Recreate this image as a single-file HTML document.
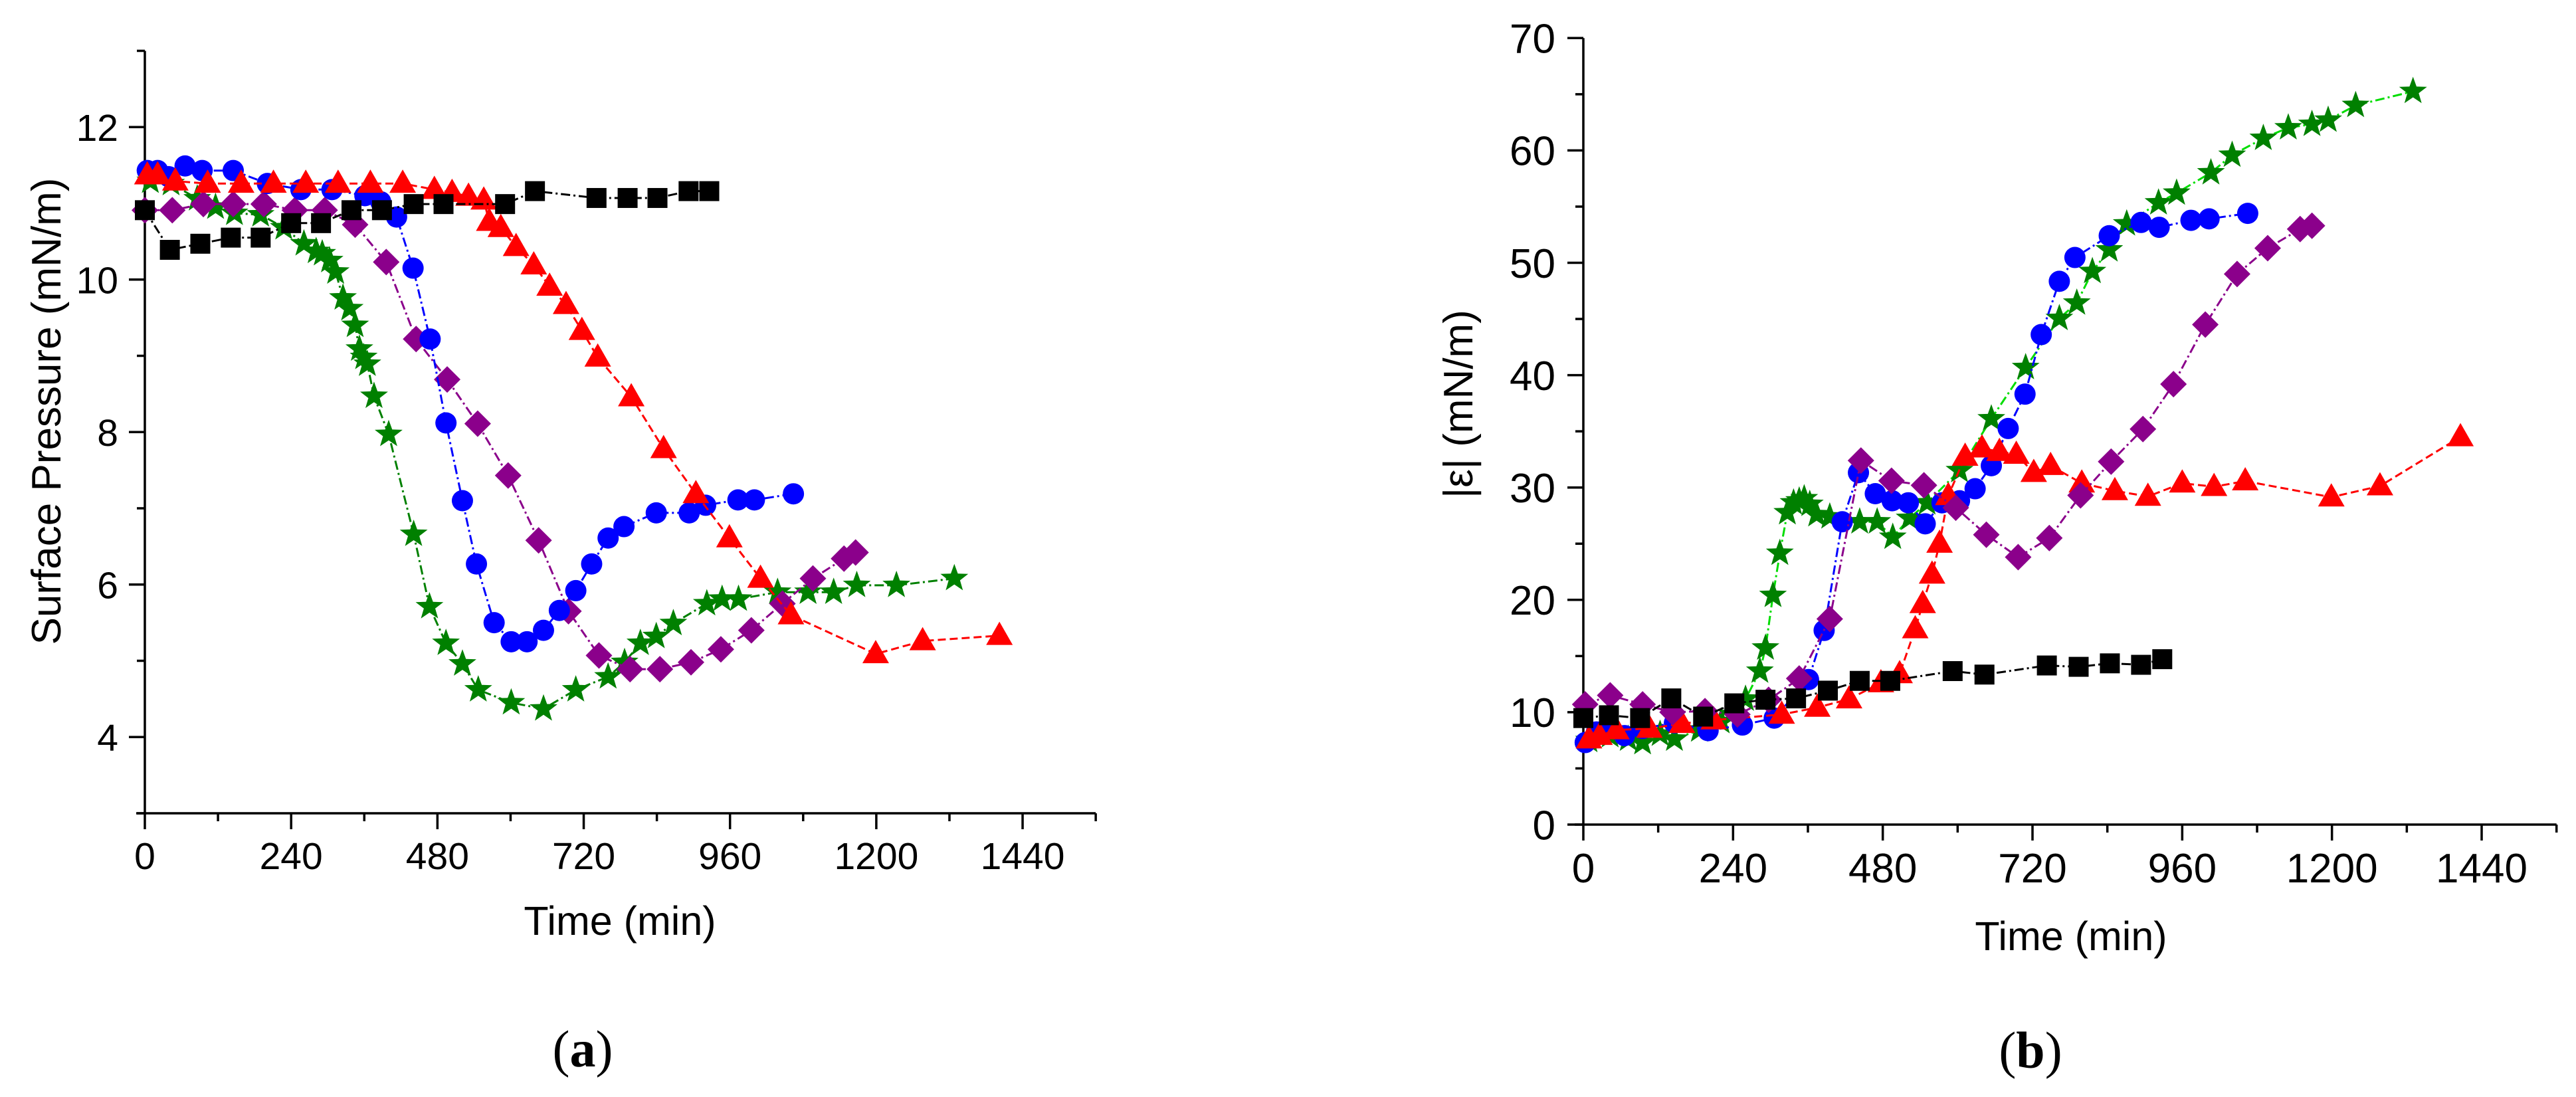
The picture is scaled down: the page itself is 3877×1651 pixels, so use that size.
<!DOCTYPE html>
<html><head><meta charset="utf-8"><style>
html,body{margin:0;padding:0;background:#fff;}
svg{display:block;}
text{font-family:"Liberation Sans",Arial,sans-serif;fill:#000;}
</style></head><body>
<svg id="fig" width="3877" height="1651" viewBox="0 0 3877 1651" xmlns="http://www.w3.org/2000/svg">
<g id="chartA"></g>
<g id="chartB"></g>
</svg>
<script>
// ---------- Chart (a) data ----------
const aBlackT=[0,41,91,141,190,240,289,339,389,441,490,591,640,741,792,841,892,926];
const aBlackV=[10.91,10.39,10.47,10.55,10.55,10.74,10.74,10.91,10.91,10.99,10.99,10.99,11.16,11.07,11.07,11.07,11.16,11.16];
const aBlueT=[4,21,39,66,94,145,201,256,307,361,387,413,440,468,494,521,544,573,601,627,654,680,707,733,760,786,839,893,920,973,1000,1064];
const aBlueV=[11.43,11.43,11.35,11.49,11.43,11.43,11.26,11.18,11.18,11.10,11.02,10.82,10.15,9.22,8.12,7.10,6.27,5.50,5.25,5.25,5.40,5.66,5.92,6.27,6.61,6.76,6.94,6.94,7.04,7.11,7.11,7.19];
const aRedT=[4,21,50,103,158,211,264,317,370,423,475,504,531,556,565,584,609,638,664,691,717,743,798,851,904,959,1010,1060,1199,1276,1402];
const aRedV=[11.37,11.37,11.29,11.26,11.26,11.26,11.26,11.26,11.26,11.26,11.18,11.14,11.09,11.04,10.76,10.68,10.43,10.19,9.91,9.67,9.33,8.98,8.46,7.78,7.19,6.61,6.08,5.60,5.09,5.26,5.33];
const aPurpleT=[0,45,96,145,195,246,295,345,396,445,496,546,596,646,695,745,796,845,896,945,995,1046,1096,1147,1166];
const aPurpleV=[10.91,10.91,10.99,10.99,10.99,10.91,10.91,10.72,10.23,9.22,8.69,8.11,7.43,6.58,5.65,5.07,4.89,4.89,4.98,5.15,5.40,5.75,6.08,6.34,6.42];
const aGreenT=[9,43,86,116,147,190,228,261,281,291,303,313,325,336,345,352,359,365,376,400,441,467,494,521,547,601,654,707,760,787,813,839,867,922,947,974,1038,1088,1130,1168,1233,1328];
const aGreenV=[11.29,11.26,11.06,10.95,10.87,10.85,10.68,10.47,10.37,10.34,10.25,10.10,9.76,9.62,9.40,9.09,8.98,8.89,8.47,7.97,6.66,5.71,5.23,4.96,4.62,4.45,4.37,4.62,4.79,4.98,5.23,5.32,5.49,5.75,5.81,5.81,5.90,5.90,5.90,5.99,5.99,6.08];
const aXTicks=[0,240,480,720,960,1200,1440];
const aYTicks=[4,6,8,10,12];

// ---------- Chart (b) data ----------
const bBlackT=[0,41,91,141,192,242,292,341,392,443,492,592,643,743,794,844,894,928];
const bBlackV=[9.48,9.73,9.48,11.23,9.61,10.79,11.11,11.23,11.92,12.79,12.79,13.66,13.35,14.16,14.04,14.35,14.22,14.72];
const bBlueT=[3,21,41,66,95,146,200,255,306,361,386,415,441,468,495,521,548,575,603,628,654,681,708,734,763,788,843,894,923,974,1003,1065];
const bBlueV=[7.30,8.24,8.55,7.92,8.55,9.05,8.36,8.86,9.48,12.91,17.28,26.95,31.32,29.45,28.82,28.64,26.77,28.64,28.82,29.89,31.94,35.25,38.31,43.61,48.35,50.47,52.41,53.59,53.16,53.78,53.91,54.40];
const bRedT=[9,26,53,106,158,209,318,375,426,477,507,532,544,559,571,585,612,639,667,694,722,749,799,852,905,960,1011,1061,1199,1277,1406];
const bRedV=[7.61,7.92,8.42,8.55,8.98,9.30,9.80,10.42,11.17,12.60,13.41,17.41,19.65,22.27,25.02,29.26,32.76,33.50,33.19,32.94,31.32,31.94,30.38,29.70,29.20,30.38,30.07,30.57,29.14,30.13,34.50];
const bPurpleT=[3,43,95,143,195,247,297,346,395,445,494,546,597,646,697,747,797,846,897,946,997,1048,1097,1149,1168];
const bPurpleV=[10.7,11.5,10.7,10.0,10.1,9.8,11.1,13.0,18.3,32.4,30.6,30.2,28.2,25.8,23.8,25.5,29.3,32.3,35.2,39.2,44.5,49.0,51.3,53.0,53.3];
const bGreenT=[9,43,72,95,123,146,186,221,238,260,283,292,304,315,327,337,346,354,363,374,395,443,471,496,523,551,603,654,709,763,791,816,843,871,922,951,1006,1040,1090,1130,1168,1194,1238,1330];
const bGreenV=[7.49,7.92,7.61,7.30,8.05,7.61,8.42,9.17,9.80,11.17,13.66,15.72,20.40,24.15,27.76,28.64,28.82,29.01,28.51,27.58,27.39,26.95,26.95,25.58,27.26,28.64,31.51,36.12,40.68,45.05,46.42,49.23,51.16,53.47,55.34,56.21,58.02,59.58,61.08,62.02,62.33,62.70,64.01,65.26];
const bXTicks=[0,240,480,720,960,1200,1440];
const bYTicks=[0,10,20,30,40,50,60,70];

const NS="http://www.w3.org/2000/svg";
function mk(tag,attrs,parent){const e=document.createElementNS(NS,tag);for(const k in attrs)e.setAttribute(k,attrs[k]);parent.appendChild(e);return e;}

function marker(g,shape,color,x,y){
  let e;
  if(shape==='square'){e=mk('rect',{x:x-15,y:y-15,width:30,height:30,fill:color},g);}
  else if(shape==='circle'){e=mk('circle',{cx:x,cy:y,r:16,fill:color},g);}
  else if(shape==='triangle'){e=mk('polygon',{points:`${x},${y-21} ${x+20},${y+14} ${x-20},${y+14}`,fill:color},g);}
  else if(shape==='diamond'){e=mk('polygon',{points:`${x},${y-20} ${x+20},${y} ${x},${y+20} ${x-20},${y}`,fill:color},g);}
  else {let p=[];for(let i=0;i<10;i++){const r=i%2?9:22;const a=-Math.PI/2+i*Math.PI/5;p.push((x+r*Math.cos(a)).toFixed(1)+','+(y+r*Math.sin(a)).toFixed(1));}
    e=mk('polygon',{points:p.join(' '),fill:color},g);}
  return e;
}

function drawChart(root,cfg){
  const X=t=>cfg.x0+t*cfg.sx;
  const Y=v=>cfg.yBot-(v-cfg.yMin)*cfg.sy;
  const ax=mk('g',{},root);
  
  
  const yTop=Y(cfg.yMax), xEnd=X(cfg.xMax);
  const yl=mk('line',{x1:cfg.x0,y1:yTop,x2:cfg.x0,y2:cfg.yBot,stroke:'#000','stroke-width':3.5},ax);
  
  
  const xl=mk('line',{x1:cfg.x0-13,y1:cfg.yBot,x2:xEnd,y2:cfg.yBot,stroke:'#000','stroke-width':3.5},ax);
  
  
  for(let t=0;t<=cfg.xMax;t+=120){
    const maj=cfg.xTicks.includes(t);
    mk('line',{x1:X(t),y1:cfg.yBot,x2:X(t),y2:cfg.yBot+(maj?24:12),stroke:'#000','stroke-width':3.5},ax);
  }
  cfg.xTicks.forEach(t=>{
    const tx=mk('text',{x:X(t),y:cfg.xLabBase,'text-anchor':'middle','font-size':cfg.fs},ax);
    tx.textContent=t;
    
    
  });
  for(let v=cfg.yMin;v<=cfg.yMax+1e-9;v+=cfg.yMinor){
    const maj=cfg.yTicks.some(q=>Math.abs(q-v)<1e-9);
    mk('line',{x1:cfg.x0-(maj?24:12),y1:Y(v),x2:cfg.x0,y2:Y(v),stroke:'#000','stroke-width':3.5},ax);
  }
  cfg.yTicks.forEach(v=>{
    const tx=mk('text',{x:cfg.yLabRight,y:Y(v)+cfg.fs*0.36,'text-anchor':'end','font-size':cfg.fs},ax);
    tx.textContent=v;
    
    
  });
  const xt=mk('text',{x:cfg.xTitleX,y:cfg.xTitleY,'text-anchor':'middle','font-size':61},root);
  xt.textContent='Time (min)';
  
  
  const yt=mk('text',{x:0,y:0,'text-anchor':'middle','font-size':cfg.yTitleFs,transform:`translate(${cfg.yTitleX},${cfg.yTitleY}) rotate(-90)`},root);
  yt.textContent=cfg.yTitle;
  
  
  const pl=mk('text',{x:cfg.panelX,y:cfg.panelY,'text-anchor':'middle','font-size':78,style:'font-family:"Liberation Serif",serif'},root);
  pl.innerHTML='(<tspan font-weight="bold">'+cfg.panel+'</tspan>)';
  
  

  cfg.series.forEach(s=>{
    const g=mk('g',{},root);
    
    
    const pts=s.t.map((t,i)=>X(t).toFixed(1)+','+Y(s.v[i]).toFixed(1)).join(' ');
    const ln=mk('polyline',{points:pts,fill:'none',stroke:s.line,'stroke-width':3,'stroke-dasharray':s.dash},g);
    
    
    s.t.forEach((t,i)=>{
      const m=marker(g,s.shape,s.color,X(t),Y(s.v[i]));
      
      
    });
  });
}

drawChart(document.getElementById('chartA'),{
  x0:218,sx:0.9174,xMax:1560,yBot:1224,yMin:3,yMax:13,sy:114.75,yMinor:1,
  xTicks:aXTicks,yTicks:aYTicks,fs:57,xLabBase:1308,yLabRight:178,
  xTitleX:933,xTitleY:1407,yTitle:'Surface Pressure (mN/m)',yTitleFs:62,yTitleX:91,yTitleY:619,
  panel:'a',panelX:877,panelY:1605,
  series:[
    {name:'green-stars',t:aGreenT,v:aGreenV,shape:'star',color:'#008000',line:'#008000',dash:'14 5 3 5'},
    {name:'purple-diamonds',t:aPurpleT,v:aPurpleV,shape:'diamond',color:'#8B008B',line:'#8B008B',dash:'14 5 3 5'},
    {name:'blue-circles',t:aBlueT,v:aBlueV,shape:'circle',color:'#0000ff',line:'#0000ff',dash:'14 5 3 5'},
    {name:'red-triangles',t:aRedT,v:aRedV,shape:'triangle',color:'#ff0000',line:'#ff0000',dash:'12 6'},
    {name:'black-squares',t:aBlackT,v:aBlackV,shape:'square',color:'#000',line:'#000',dash:'14 5 3 5'}
  ]
});
drawChart(document.getElementById('chartB'),{
  x0:2383,sx:0.9389,xMax:1560,yBot:1241,yMin:0,yMax:70,sy:16.91,yMinor:5,
  xTicks:bXTicks,yTicks:bYTicks,fs:62,xLabBase:1328,yLabRight:2341,
  xTitleX:3117,xTitleY:1430,yTitle:'|ε| (mN/m)',yTitleFs:62,yTitleX:2216,yTitleY:608,
  panel:'b',panelX:3056,panelY:1607,
  series:[
    {name:'green-stars',t:bGreenT,v:bGreenV,shape:'star',color:'#008000',line:'#00dd00',dash:'14 5 3 5'},
    {name:'blue-circles',t:bBlueT,v:bBlueV,shape:'circle',color:'#0000ff',line:'#0000ff',dash:'14 5 3 5'},
    {name:'red-triangles',t:bRedT,v:bRedV,shape:'triangle',color:'#ff0000',line:'#ff0000',dash:'12 6'},
    {name:'purple-diamonds',t:bPurpleT,v:bPurpleV,shape:'diamond',color:'#8B008B',line:'#8B008B',dash:'14 5 3 5'},
    {name:'black-squares',t:bBlackT,v:bBlackV,shape:'square',color:'#000',line:'#000',dash:'14 5 3 5'}
  ]
});
</script>
</body></html>
